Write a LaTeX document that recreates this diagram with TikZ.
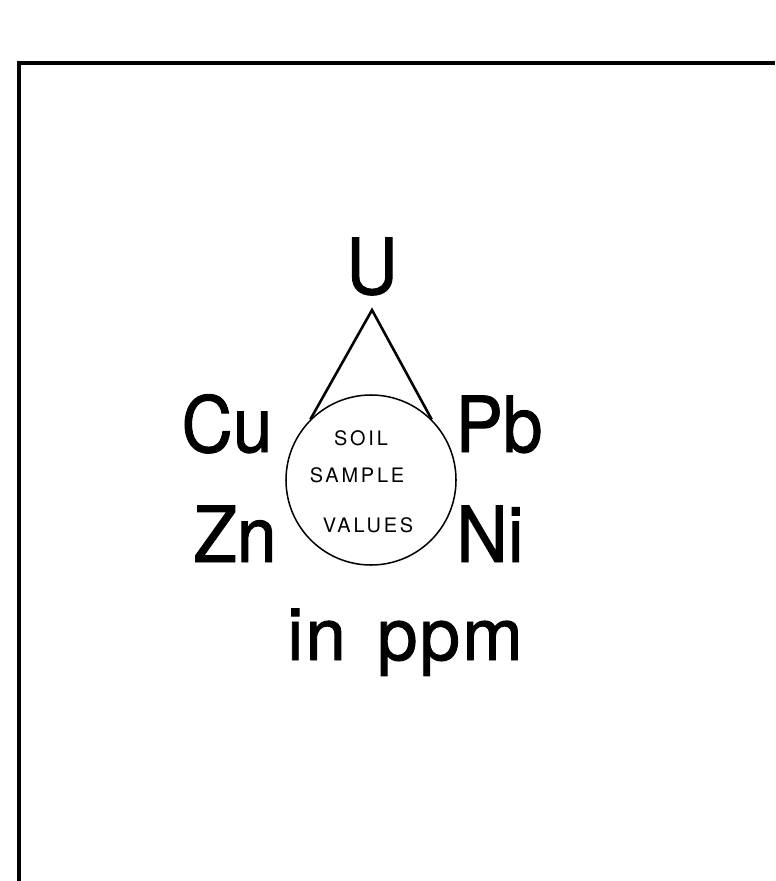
\documentclass[tikz,border=0pt]{standalone}
\usepackage{fontspec}
\setmainfont{TeX Gyre Heros}
\newfontfamily\elementfont[FakeStretch=0.92, FakeBold=1.2]{TeX Gyre Heros}
\newfontfamily\unitfont[FakeBold=1.2, LetterSpace=3, WordSpace=1.4]{TeX Gyre Heros}
\newfontfamily\smallsans[LetterSpace=14]{TeX Gyre Heros}
\usetikzlibrary{positioning}

\begin{document}
\begin{tikzpicture}[x=0.03cm, y=-0.03cm, line width=1.3pt,
    element/.style={font=\elementfont\fontsize{66}{78}\selectfont, anchor=base, inner sep=0pt},
    sample/.style={font=\smallsans\fontsize{17}{20}\selectfont, anchor=base, inner sep=0pt}]
  \useasboundingbox (0,0) rectangle (775,881);
  % frame
  \draw[line width=2.8pt] (19,881) -- (19,63) -- (775,63);
  % soil sample circle and apex
  \node[draw, circle, minimum size=170*0.03cm, inner sep=0pt] (soil) at (371,480) {};
  \coordinate (apex) at (372,310);
  \draw[line width=2.2pt] (soil.135) -- (apex) -- (soil.45);
  % circle text
  \node[sample] (soiltxt) at (361,445) {SOIL};
  \node[sample] (sampletxt) at (357,482) {SAMPLE};
  \node[sample] (valuestxt) at (368,532) {VALUES};
  % elements
  \node[element] (U) at (372,294) {U};
  \node[element] (Cu) at (227,452) {Cu};
  \node[element] (Pb) at (499,452) {Pb};
  \node[element] (Zn) at (235,562) {Zn};
  \node[element] (Ni) at (490,562) {Ni};
  \node[element, font=\unitfont\fontsize{62}{74}\selectfont] (unit) at (405,660) {in ppm};
\end{tikzpicture}
\end{document}
